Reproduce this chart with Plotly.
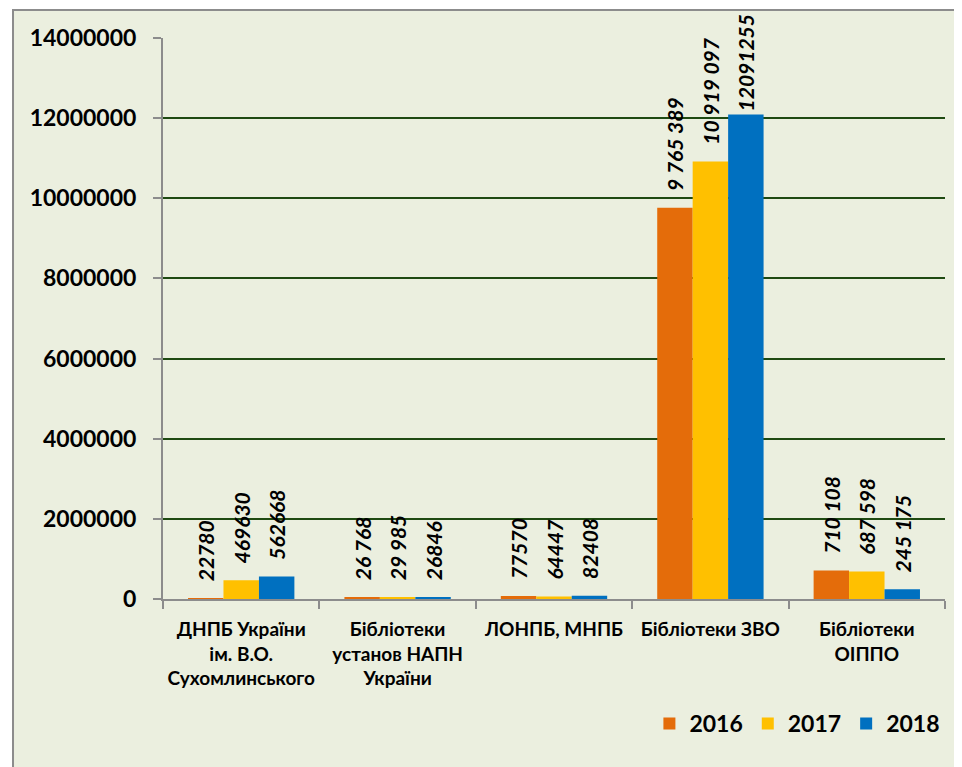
import plotly.graph_objects as go

categories = ["ДНПБ України<br>ім. В.О.<br>Сухомлинського",
              "Бібліотеки<br>установ НАПН<br>України",
              "ЛОНПБ, МНПБ",
              "Бібліотеки ЗВО",
              "Бібліотеки<br>ОІППО"]
years = ["2016", "2017", "2018"]
values_2016 = [22780, 26768, 77570, 9765389, 710108]
values_2017 = [469630, 29985, 64447, 10919097, 687598]
values_2018 = [562668, 26846, 82408, 12091255, 245175]
labels_2016 = ["22780", "26 768", "77570", "9 765 389", "710 108"]
labels_2017 = ["469630", "29 985", "64447", "10 919 097", "687 598"]
labels_2018 = ["562668", "26846", "82408", "12091255", "245 175"]
y_ticks = [0, 2000000, 4000000, 6000000, 8000000, 10000000, 12000000, 14000000]
Y_MAX = 14000000

colors = ["#E46C0A", "#FFC000", "#0070C0"]
FONT = "Lato"
PAD = "\u00a0\u00a0\u00a0"

fig = go.Figure()
for name, vals, labs, col in zip(years, [values_2016, values_2017, values_2018],
                                  [labels_2016, labels_2017, labels_2018], colors):
    # labels that would run off the top of the chart are not padded (Excel pulls them down)
    texts = [(t if v > 0.85 * Y_MAX else PAD + t) for v, t in zip(vals, labs)]
    fig.add_trace(go.Bar(
        name=name, x=categories, y=vals,
        text=texts,
        textposition="outside", textangle=-90,
        textfont=dict(family=FONT, size=21, color="black", weight="bold", style="italic"),
        cliponaxis=False, constraintext="none",
        marker=dict(color=col, line=dict(width=0)),
    ))

fig.update_layout(
    width=954, height=759,
    margin=dict(l=155, r=17, t=30, b=168, autoexpand=False),
    paper_bgcolor="white", plot_bgcolor="rgba(0,0,0,0)",
    barmode="group", bargap=0.32, bargroupgap=0,
    font=dict(family=FONT, color="black"),
    legend=dict(orientation="h", x=0.622, y=-0.222, xanchor="left", yanchor="middle",
                font=dict(family=FONT, size=23, weight="bold"),
                bgcolor="rgba(0,0,0,0)", itemwidth=30, traceorder="normal"),
    shapes=[dict(type="rect", xref="paper", yref="paper", x0=-0.1918, x1=1.2,
                 y0=-0.5, y1=1.05, fillcolor="#EBEFDF",
                 line=dict(color="#8C8C8C", width=2), layer="below")],
)
fig.update_yaxes(range=[0, Y_MAX], tickvals=y_ticks, tickformat="d",
                 showgrid=True, gridcolor="#1F4A12", gridwidth=2,
                 showline=True, linecolor="#8C8C8C", linewidth=2,
                 ticks="outside", ticklen=8, tickcolor="#8C8C8C", tickwidth=2,
                 tickfont=dict(family=FONT, size=23, weight="bold"),
                 ticklabelstandoff=12, zeroline=False)
fig.update_xaxes(showline=True, linecolor="#8C8C8C", linewidth=2,
                 ticks="outside", tickson="boundaries", ticklen=8,
                 tickcolor="#8C8C8C", tickwidth=2,
                 tickfont=dict(family=FONT, size=19, weight="bold"),
                 ticklabelstandoff=12, tickangle=0)

fig.write_html("out.html")
